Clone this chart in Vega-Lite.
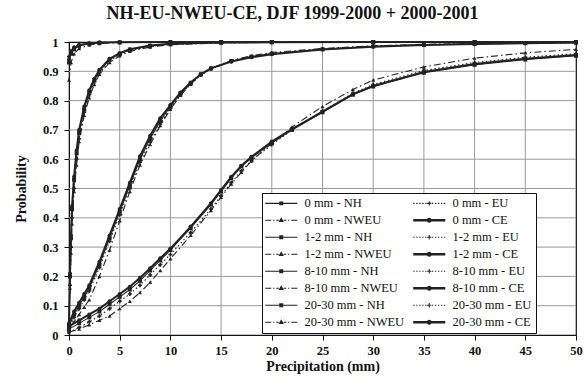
{
"$schema":"https://vega.github.io/schema/vega-lite/v6.json",
"width":507,"height":293,"autosize":"none",
"padding":{"left":69,"top":42,"right":9,"bottom":46},
"background":"white",
"title":{"text":"NH-EU-NWEU-CE,  DJF 1999-2000 + 2000-2001","font":"Liberation Serif","fontSize":18,"fontWeight":"bold","color":"#111","anchor":"middle","offset":13,"dx":-30},
"datasets":{
"gx":[{"gv":5},{"gv":10},{"gv":15},{"gv":20},{"gv":25},{"gv":30},{"gv":35},{"gv":40},{"gv":45}],
"gy":[{"gv":0.1},{"gv":0.2},{"gv":0.3},{"gv":0.4},{"gv":0.5},{"gv":0.6},{"gv":0.7},{"gv":0.8},{"gv":0.9}],
"curves":[
{"t":"0 mm","r":"NH","x":0,"p":0.93},{"t":"0 mm","r":"NH","x":0.2,"p":0.96},{"t":"0 mm","r":"NH","x":0.5,"p":0.975},{"t":"0 mm","r":"NH","x":1,"p":0.987},{"t":"0 mm","r":"NH","x":2,"p":0.994},{"t":"0 mm","r":"NH","x":3,"p":0.997},{"t":"0 mm","r":"NH","x":5,"p":0.999},{"t":"0 mm","r":"NH","x":10,"p":1},{"t":"0 mm","r":"NH","x":15,"p":1},{"t":"0 mm","r":"NH","x":20,"p":1},{"t":"0 mm","r":"NH","x":30,"p":1},{"t":"0 mm","r":"NH","x":40,"p":1},{"t":"0 mm","r":"NH","x":50,"p":1},
{"t":"0 mm","r":"EU","x":0,"p":0.95},{"t":"0 mm","r":"EU","x":0.2,"p":0.97},{"t":"0 mm","r":"EU","x":0.5,"p":0.982},{"t":"0 mm","r":"EU","x":1,"p":0.99},{"t":"0 mm","r":"EU","x":2,"p":0.996},{"t":"0 mm","r":"EU","x":3,"p":0.998},{"t":"0 mm","r":"EU","x":5,"p":0.999},{"t":"0 mm","r":"EU","x":10,"p":1},{"t":"0 mm","r":"EU","x":15,"p":1},{"t":"0 mm","r":"EU","x":20,"p":1},{"t":"0 mm","r":"EU","x":30,"p":1},{"t":"0 mm","r":"EU","x":40,"p":1},{"t":"0 mm","r":"EU","x":50,"p":1},
{"t":"0 mm","r":"NWEU","x":0,"p":0.87},{"t":"0 mm","r":"NWEU","x":0.2,"p":0.93},{"t":"0 mm","r":"NWEU","x":0.5,"p":0.96},{"t":"0 mm","r":"NWEU","x":1,"p":0.978},{"t":"0 mm","r":"NWEU","x":2,"p":0.99},{"t":"0 mm","r":"NWEU","x":3,"p":0.995},{"t":"0 mm","r":"NWEU","x":5,"p":0.998},{"t":"0 mm","r":"NWEU","x":10,"p":0.999},{"t":"0 mm","r":"NWEU","x":15,"p":1},{"t":"0 mm","r":"NWEU","x":20,"p":1},{"t":"0 mm","r":"NWEU","x":30,"p":1},{"t":"0 mm","r":"NWEU","x":40,"p":1},{"t":"0 mm","r":"NWEU","x":50,"p":1},
{"t":"0 mm","r":"CE","x":0,"p":0.94},{"t":"0 mm","r":"CE","x":0.2,"p":0.965},{"t":"0 mm","r":"CE","x":0.5,"p":0.98},{"t":"0 mm","r":"CE","x":1,"p":0.99},{"t":"0 mm","r":"CE","x":2,"p":0.995},{"t":"0 mm","r":"CE","x":3,"p":0.998},{"t":"0 mm","r":"CE","x":5,"p":0.999},{"t":"0 mm","r":"CE","x":10,"p":1},{"t":"0 mm","r":"CE","x":15,"p":1},{"t":"0 mm","r":"CE","x":20,"p":1},{"t":"0 mm","r":"CE","x":30,"p":1},{"t":"0 mm","r":"CE","x":40,"p":1},{"t":"0 mm","r":"CE","x":50,"p":1},
{"t":"1-2 mm","r":"NH","x":0,"p":0.03},{"t":"1-2 mm","r":"NH","x":0.1,"p":0.2},{"t":"1-2 mm","r":"NH","x":0.2,"p":0.33},{"t":"1-2 mm","r":"NH","x":0.3,"p":0.43},{"t":"1-2 mm","r":"NH","x":0.5,"p":0.53},{"t":"1-2 mm","r":"NH","x":0.75,"p":0.62},{"t":"1-2 mm","r":"NH","x":1,"p":0.69},{"t":"1-2 mm","r":"NH","x":1.5,"p":0.77},{"t":"1-2 mm","r":"NH","x":2,"p":0.83},{"t":"1-2 mm","r":"NH","x":2.5,"p":0.87},{"t":"1-2 mm","r":"NH","x":3,"p":0.9},{"t":"1-2 mm","r":"NH","x":4,"p":0.94},{"t":"1-2 mm","r":"NH","x":5,"p":0.96},{"t":"1-2 mm","r":"NH","x":6,"p":0.974},{"t":"1-2 mm","r":"NH","x":8,"p":0.987},{"t":"1-2 mm","r":"NH","x":10,"p":0.993},{"t":"1-2 mm","r":"NH","x":15,"p":0.998},{"t":"1-2 mm","r":"NH","x":20,"p":0.999},{"t":"1-2 mm","r":"NH","x":30,"p":1},{"t":"1-2 mm","r":"NH","x":40,"p":1},{"t":"1-2 mm","r":"NH","x":50,"p":1},
{"t":"1-2 mm","r":"EU","x":0,"p":0.02},{"t":"1-2 mm","r":"EU","x":0.1,"p":0.17},{"t":"1-2 mm","r":"EU","x":0.2,"p":0.3},{"t":"1-2 mm","r":"EU","x":0.3,"p":0.4},{"t":"1-2 mm","r":"EU","x":0.5,"p":0.5},{"t":"1-2 mm","r":"EU","x":0.75,"p":0.6},{"t":"1-2 mm","r":"EU","x":1,"p":0.67},{"t":"1-2 mm","r":"EU","x":1.5,"p":0.76},{"t":"1-2 mm","r":"EU","x":2,"p":0.82},{"t":"1-2 mm","r":"EU","x":2.5,"p":0.865},{"t":"1-2 mm","r":"EU","x":3,"p":0.895},{"t":"1-2 mm","r":"EU","x":4,"p":0.935},{"t":"1-2 mm","r":"EU","x":5,"p":0.957},{"t":"1-2 mm","r":"EU","x":6,"p":0.971},{"t":"1-2 mm","r":"EU","x":8,"p":0.985},{"t":"1-2 mm","r":"EU","x":10,"p":0.992},{"t":"1-2 mm","r":"EU","x":15,"p":0.997},{"t":"1-2 mm","r":"EU","x":20,"p":0.999},{"t":"1-2 mm","r":"EU","x":30,"p":1},{"t":"1-2 mm","r":"EU","x":40,"p":1},{"t":"1-2 mm","r":"EU","x":50,"p":1},
{"t":"1-2 mm","r":"NWEU","x":0,"p":0.04},{"t":"1-2 mm","r":"NWEU","x":0.1,"p":0.16},{"t":"1-2 mm","r":"NWEU","x":0.2,"p":0.28},{"t":"1-2 mm","r":"NWEU","x":0.3,"p":0.38},{"t":"1-2 mm","r":"NWEU","x":0.5,"p":0.49},{"t":"1-2 mm","r":"NWEU","x":0.75,"p":0.58},{"t":"1-2 mm","r":"NWEU","x":1,"p":0.66},{"t":"1-2 mm","r":"NWEU","x":1.5,"p":0.75},{"t":"1-2 mm","r":"NWEU","x":2,"p":0.81},{"t":"1-2 mm","r":"NWEU","x":2.5,"p":0.855},{"t":"1-2 mm","r":"NWEU","x":3,"p":0.89},{"t":"1-2 mm","r":"NWEU","x":4,"p":0.93},{"t":"1-2 mm","r":"NWEU","x":5,"p":0.953},{"t":"1-2 mm","r":"NWEU","x":6,"p":0.968},{"t":"1-2 mm","r":"NWEU","x":8,"p":0.983},{"t":"1-2 mm","r":"NWEU","x":10,"p":0.991},{"t":"1-2 mm","r":"NWEU","x":15,"p":0.997},{"t":"1-2 mm","r":"NWEU","x":20,"p":0.999},{"t":"1-2 mm","r":"NWEU","x":30,"p":1},{"t":"1-2 mm","r":"NWEU","x":40,"p":1},{"t":"1-2 mm","r":"NWEU","x":50,"p":1},
{"t":"1-2 mm","r":"CE","x":0,"p":0.03},{"t":"1-2 mm","r":"CE","x":0.1,"p":0.21},{"t":"1-2 mm","r":"CE","x":0.2,"p":0.34},{"t":"1-2 mm","r":"CE","x":0.3,"p":0.44},{"t":"1-2 mm","r":"CE","x":0.5,"p":0.54},{"t":"1-2 mm","r":"CE","x":0.75,"p":0.63},{"t":"1-2 mm","r":"CE","x":1,"p":0.7},{"t":"1-2 mm","r":"CE","x":1.5,"p":0.78},{"t":"1-2 mm","r":"CE","x":2,"p":0.835},{"t":"1-2 mm","r":"CE","x":2.5,"p":0.875},{"t":"1-2 mm","r":"CE","x":3,"p":0.905},{"t":"1-2 mm","r":"CE","x":4,"p":0.943},{"t":"1-2 mm","r":"CE","x":5,"p":0.962},{"t":"1-2 mm","r":"CE","x":6,"p":0.975},{"t":"1-2 mm","r":"CE","x":8,"p":0.988},{"t":"1-2 mm","r":"CE","x":10,"p":0.994},{"t":"1-2 mm","r":"CE","x":15,"p":0.998},{"t":"1-2 mm","r":"CE","x":20,"p":0.999},{"t":"1-2 mm","r":"CE","x":30,"p":1},{"t":"1-2 mm","r":"CE","x":40,"p":1},{"t":"1-2 mm","r":"CE","x":50,"p":1},
{"t":"8-10 mm","r":"NH","x":0,"p":0.03},{"t":"8-10 mm","r":"NH","x":0.5,"p":0.07},{"t":"8-10 mm","r":"NH","x":1,"p":0.1},{"t":"8-10 mm","r":"NH","x":1.5,"p":0.13},{"t":"8-10 mm","r":"NH","x":2,"p":0.16},{"t":"8-10 mm","r":"NH","x":3,"p":0.24},{"t":"8-10 mm","r":"NH","x":4,"p":0.33},{"t":"8-10 mm","r":"NH","x":5,"p":0.42},{"t":"8-10 mm","r":"NH","x":6,"p":0.51},{"t":"8-10 mm","r":"NH","x":7,"p":0.6},{"t":"8-10 mm","r":"NH","x":8,"p":0.67},{"t":"8-10 mm","r":"NH","x":9,"p":0.73},{"t":"8-10 mm","r":"NH","x":10,"p":0.78},{"t":"8-10 mm","r":"NH","x":11,"p":0.825},{"t":"8-10 mm","r":"NH","x":12,"p":0.86},{"t":"8-10 mm","r":"NH","x":13,"p":0.89},{"t":"8-10 mm","r":"NH","x":14,"p":0.91},{"t":"8-10 mm","r":"NH","x":16,"p":0.935},{"t":"8-10 mm","r":"NH","x":18,"p":0.95},{"t":"8-10 mm","r":"NH","x":20,"p":0.96},{"t":"8-10 mm","r":"NH","x":25,"p":0.975},{"t":"8-10 mm","r":"NH","x":30,"p":0.985},{"t":"8-10 mm","r":"NH","x":35,"p":0.99},{"t":"8-10 mm","r":"NH","x":40,"p":0.993},{"t":"8-10 mm","r":"NH","x":45,"p":0.996},{"t":"8-10 mm","r":"NH","x":50,"p":0.998},
{"t":"8-10 mm","r":"EU","x":0,"p":0.02},{"t":"8-10 mm","r":"EU","x":0.5,"p":0.06},{"t":"8-10 mm","r":"EU","x":1,"p":0.09},{"t":"8-10 mm","r":"EU","x":1.5,"p":0.12},{"t":"8-10 mm","r":"EU","x":2,"p":0.15},{"t":"8-10 mm","r":"EU","x":3,"p":0.23},{"t":"8-10 mm","r":"EU","x":4,"p":0.32},{"t":"8-10 mm","r":"EU","x":5,"p":0.41},{"t":"8-10 mm","r":"EU","x":6,"p":0.5},{"t":"8-10 mm","r":"EU","x":7,"p":0.59},{"t":"8-10 mm","r":"EU","x":8,"p":0.66},{"t":"8-10 mm","r":"EU","x":9,"p":0.72},{"t":"8-10 mm","r":"EU","x":10,"p":0.775},{"t":"8-10 mm","r":"EU","x":11,"p":0.82},{"t":"8-10 mm","r":"EU","x":12,"p":0.857},{"t":"8-10 mm","r":"EU","x":13,"p":0.887},{"t":"8-10 mm","r":"EU","x":14,"p":0.908},{"t":"8-10 mm","r":"EU","x":16,"p":0.934},{"t":"8-10 mm","r":"EU","x":18,"p":0.95},{"t":"8-10 mm","r":"EU","x":20,"p":0.961},{"t":"8-10 mm","r":"EU","x":25,"p":0.976},{"t":"8-10 mm","r":"EU","x":30,"p":0.986},{"t":"8-10 mm","r":"EU","x":35,"p":0.991},{"t":"8-10 mm","r":"EU","x":40,"p":0.994},{"t":"8-10 mm","r":"EU","x":45,"p":0.996},{"t":"8-10 mm","r":"EU","x":50,"p":0.998},
{"t":"8-10 mm","r":"NWEU","x":0,"p":0.02},{"t":"8-10 mm","r":"NWEU","x":0.5,"p":0.045},{"t":"8-10 mm","r":"NWEU","x":1,"p":0.07},{"t":"8-10 mm","r":"NWEU","x":1.5,"p":0.095},{"t":"8-10 mm","r":"NWEU","x":2,"p":0.12},{"t":"8-10 mm","r":"NWEU","x":3,"p":0.2},{"t":"8-10 mm","r":"NWEU","x":4,"p":0.29},{"t":"8-10 mm","r":"NWEU","x":5,"p":0.39},{"t":"8-10 mm","r":"NWEU","x":6,"p":0.49},{"t":"8-10 mm","r":"NWEU","x":7,"p":0.58},{"t":"8-10 mm","r":"NWEU","x":8,"p":0.65},{"t":"8-10 mm","r":"NWEU","x":9,"p":0.715},{"t":"8-10 mm","r":"NWEU","x":10,"p":0.77},{"t":"8-10 mm","r":"NWEU","x":11,"p":0.818},{"t":"8-10 mm","r":"NWEU","x":12,"p":0.856},{"t":"8-10 mm","r":"NWEU","x":13,"p":0.888},{"t":"8-10 mm","r":"NWEU","x":14,"p":0.91},{"t":"8-10 mm","r":"NWEU","x":16,"p":0.937},{"t":"8-10 mm","r":"NWEU","x":18,"p":0.953},{"t":"8-10 mm","r":"NWEU","x":20,"p":0.964},{"t":"8-10 mm","r":"NWEU","x":25,"p":0.978},{"t":"8-10 mm","r":"NWEU","x":30,"p":0.987},{"t":"8-10 mm","r":"NWEU","x":35,"p":0.992},{"t":"8-10 mm","r":"NWEU","x":40,"p":0.995},{"t":"8-10 mm","r":"NWEU","x":45,"p":0.997},{"t":"8-10 mm","r":"NWEU","x":50,"p":0.998},
{"t":"8-10 mm","r":"CE","x":0,"p":0.04},{"t":"8-10 mm","r":"CE","x":0.5,"p":0.08},{"t":"8-10 mm","r":"CE","x":1,"p":0.11},{"t":"8-10 mm","r":"CE","x":1.5,"p":0.14},{"t":"8-10 mm","r":"CE","x":2,"p":0.17},{"t":"8-10 mm","r":"CE","x":3,"p":0.25},{"t":"8-10 mm","r":"CE","x":4,"p":0.34},{"t":"8-10 mm","r":"CE","x":5,"p":0.43},{"t":"8-10 mm","r":"CE","x":6,"p":0.52},{"t":"8-10 mm","r":"CE","x":7,"p":0.61},{"t":"8-10 mm","r":"CE","x":8,"p":0.68},{"t":"8-10 mm","r":"CE","x":9,"p":0.74},{"t":"8-10 mm","r":"CE","x":10,"p":0.785},{"t":"8-10 mm","r":"CE","x":11,"p":0.828},{"t":"8-10 mm","r":"CE","x":12,"p":0.862},{"t":"8-10 mm","r":"CE","x":13,"p":0.89},{"t":"8-10 mm","r":"CE","x":14,"p":0.91},{"t":"8-10 mm","r":"CE","x":16,"p":0.933},{"t":"8-10 mm","r":"CE","x":18,"p":0.948},{"t":"8-10 mm","r":"CE","x":20,"p":0.958},{"t":"8-10 mm","r":"CE","x":25,"p":0.974},{"t":"8-10 mm","r":"CE","x":30,"p":0.984},{"t":"8-10 mm","r":"CE","x":35,"p":0.99},{"t":"8-10 mm","r":"CE","x":40,"p":0.993},{"t":"8-10 mm","r":"CE","x":45,"p":0.996},{"t":"8-10 mm","r":"CE","x":50,"p":0.998},
{"t":"20-30 mm","r":"NH","x":0,"p":0.02},{"t":"20-30 mm","r":"NH","x":1,"p":0.04},{"t":"20-30 mm","r":"NH","x":2,"p":0.06},{"t":"20-30 mm","r":"NH","x":3,"p":0.08},{"t":"20-30 mm","r":"NH","x":4,"p":0.105},{"t":"20-30 mm","r":"NH","x":5,"p":0.13},{"t":"20-30 mm","r":"NH","x":6,"p":0.155},{"t":"20-30 mm","r":"NH","x":7,"p":0.185},{"t":"20-30 mm","r":"NH","x":8,"p":0.22},{"t":"20-30 mm","r":"NH","x":9,"p":0.255},{"t":"20-30 mm","r":"NH","x":10,"p":0.29},{"t":"20-30 mm","r":"NH","x":12,"p":0.365},{"t":"20-30 mm","r":"NH","x":14,"p":0.445},{"t":"20-30 mm","r":"NH","x":15,"p":0.49},{"t":"20-30 mm","r":"NH","x":16,"p":0.535},{"t":"20-30 mm","r":"NH","x":17,"p":0.575},{"t":"20-30 mm","r":"NH","x":18,"p":0.605},{"t":"20-30 mm","r":"NH","x":20,"p":0.655},{"t":"20-30 mm","r":"NH","x":22,"p":0.7},{"t":"20-30 mm","r":"NH","x":25,"p":0.76},{"t":"20-30 mm","r":"NH","x":28,"p":0.82},{"t":"20-30 mm","r":"NH","x":30,"p":0.848},{"t":"20-30 mm","r":"NH","x":35,"p":0.895},{"t":"20-30 mm","r":"NH","x":40,"p":0.922},{"t":"20-30 mm","r":"NH","x":45,"p":0.94},{"t":"20-30 mm","r":"NH","x":50,"p":0.953},
{"t":"20-30 mm","r":"EU","x":0,"p":0.01},{"t":"20-30 mm","r":"EU","x":1,"p":0.025},{"t":"20-30 mm","r":"EU","x":2,"p":0.045},{"t":"20-30 mm","r":"EU","x":3,"p":0.065},{"t":"20-30 mm","r":"EU","x":4,"p":0.09},{"t":"20-30 mm","r":"EU","x":5,"p":0.115},{"t":"20-30 mm","r":"EU","x":6,"p":0.14},{"t":"20-30 mm","r":"EU","x":7,"p":0.17},{"t":"20-30 mm","r":"EU","x":8,"p":0.205},{"t":"20-30 mm","r":"EU","x":9,"p":0.24},{"t":"20-30 mm","r":"EU","x":10,"p":0.275},{"t":"20-30 mm","r":"EU","x":12,"p":0.35},{"t":"20-30 mm","r":"EU","x":14,"p":0.43},{"t":"20-30 mm","r":"EU","x":15,"p":0.475},{"t":"20-30 mm","r":"EU","x":16,"p":0.52},{"t":"20-30 mm","r":"EU","x":17,"p":0.56},{"t":"20-30 mm","r":"EU","x":18,"p":0.595},{"t":"20-30 mm","r":"EU","x":20,"p":0.65},{"t":"20-30 mm","r":"EU","x":22,"p":0.7},{"t":"20-30 mm","r":"EU","x":25,"p":0.765},{"t":"20-30 mm","r":"EU","x":28,"p":0.825},{"t":"20-30 mm","r":"EU","x":30,"p":0.855},{"t":"20-30 mm","r":"EU","x":35,"p":0.903},{"t":"20-30 mm","r":"EU","x":40,"p":0.93},{"t":"20-30 mm","r":"EU","x":45,"p":0.948},{"t":"20-30 mm","r":"EU","x":50,"p":0.96},
{"t":"20-30 mm","r":"NWEU","x":0,"p":0.01},{"t":"20-30 mm","r":"NWEU","x":1,"p":0.02},{"t":"20-30 mm","r":"NWEU","x":2,"p":0.035},{"t":"20-30 mm","r":"NWEU","x":3,"p":0.05},{"t":"20-30 mm","r":"NWEU","x":4,"p":0.065},{"t":"20-30 mm","r":"NWEU","x":5,"p":0.09},{"t":"20-30 mm","r":"NWEU","x":6,"p":0.115},{"t":"20-30 mm","r":"NWEU","x":7,"p":0.145},{"t":"20-30 mm","r":"NWEU","x":8,"p":0.18},{"t":"20-30 mm","r":"NWEU","x":9,"p":0.22},{"t":"20-30 mm","r":"NWEU","x":10,"p":0.26},{"t":"20-30 mm","r":"NWEU","x":12,"p":0.34},{"t":"20-30 mm","r":"NWEU","x":14,"p":0.425},{"t":"20-30 mm","r":"NWEU","x":15,"p":0.47},{"t":"20-30 mm","r":"NWEU","x":16,"p":0.515},{"t":"20-30 mm","r":"NWEU","x":17,"p":0.555},{"t":"20-30 mm","r":"NWEU","x":18,"p":0.595},{"t":"20-30 mm","r":"NWEU","x":20,"p":0.655},{"t":"20-30 mm","r":"NWEU","x":22,"p":0.71},{"t":"20-30 mm","r":"NWEU","x":25,"p":0.78},{"t":"20-30 mm","r":"NWEU","x":28,"p":0.838},{"t":"20-30 mm","r":"NWEU","x":30,"p":0.87},{"t":"20-30 mm","r":"NWEU","x":35,"p":0.915},{"t":"20-30 mm","r":"NWEU","x":40,"p":0.945},{"t":"20-30 mm","r":"NWEU","x":45,"p":0.963},{"t":"20-30 mm","r":"NWEU","x":50,"p":0.975},
{"t":"20-30 mm","r":"CE","x":0,"p":0.03},{"t":"20-30 mm","r":"CE","x":1,"p":0.05},{"t":"20-30 mm","r":"CE","x":2,"p":0.07},{"t":"20-30 mm","r":"CE","x":3,"p":0.09},{"t":"20-30 mm","r":"CE","x":4,"p":0.115},{"t":"20-30 mm","r":"CE","x":5,"p":0.14},{"t":"20-30 mm","r":"CE","x":6,"p":0.165},{"t":"20-30 mm","r":"CE","x":7,"p":0.195},{"t":"20-30 mm","r":"CE","x":8,"p":0.228},{"t":"20-30 mm","r":"CE","x":9,"p":0.262},{"t":"20-30 mm","r":"CE","x":10,"p":0.295},{"t":"20-30 mm","r":"CE","x":12,"p":0.37},{"t":"20-30 mm","r":"CE","x":14,"p":0.45},{"t":"20-30 mm","r":"CE","x":15,"p":0.495},{"t":"20-30 mm","r":"CE","x":16,"p":0.54},{"t":"20-30 mm","r":"CE","x":17,"p":0.578},{"t":"20-30 mm","r":"CE","x":18,"p":0.608},{"t":"20-30 mm","r":"CE","x":20,"p":0.66},{"t":"20-30 mm","r":"CE","x":22,"p":0.703},{"t":"20-30 mm","r":"CE","x":25,"p":0.762},{"t":"20-30 mm","r":"CE","x":28,"p":0.822},{"t":"20-30 mm","r":"CE","x":30,"p":0.85},{"t":"20-30 mm","r":"CE","x":35,"p":0.898},{"t":"20-30 mm","r":"CE","x":40,"p":0.925},{"t":"20-30 mm","r":"CE","x":45,"p":0.943},{"t":"20-30 mm","r":"CE","x":50,"p":0.956}
],
"leg":[
{"label":"0 mm - NH"},{"label":"0 mm - EU"},{"label":"0 mm - NWEU"},{"label":"0 mm - CE"},
{"label":"1-2 mm - NH"},{"label":"1-2 mm - EU"},{"label":"1-2 mm - NWEU"},{"label":"1-2 mm - CE"},
{"label":"8-10 mm - NH"},{"label":"8-10 mm - EU"},{"label":"8-10 mm - NWEU"},{"label":"8-10 mm - CE"},
{"label":"20-30 mm - NH"},{"label":"20-30 mm - EU"},{"label":"20-30 mm - NWEU"},{"label":"20-30 mm - CE"}
]
},
"layer":[
{"data":{"name":"gx"},
 "mark":{"type":"rule","color":"#999999","strokeWidth":1},
 "encoding":{"x":{"field":"gv","type":"quantitative","title":"Precipitation (mm)","scale":{"domain":[0,50],"nice":false,"zero":false},"axis":{"values":[0,5,10,15,20,25,30,35,40,45,50],"labelFlush":false,"grid":false}}}},
{"data":{"name":"gy"},
 "mark":{"type":"rule","color":"#999999","strokeWidth":1},
 "encoding":{"y":{"field":"gv","type":"quantitative","title":"Probability","scale":{"domain":[0,1],"nice":false},"axis":{"values":[0,0.1,0.2,0.3,0.4,0.5,0.6,0.7,0.8,0.9,1],"format":"~g","labelFlush":false,"labelOverlap":false,"grid":false}}}},
{"data":{"name":"curves"},"transform":[{"filter":"datum.r != 'CE'"}],
 "mark":{"type":"line","color":"#222","strokeWidth":1.1},
 "encoding":{
  "x":{"field":"x","type":"quantitative","title":"Precipitation (mm)","scale":{"domain":[0,50],"nice":false,"zero":false},"axis":{"values":[0,5,10,15,20,25,30,35,40,45,50],"labelFlush":false,"grid":false}},
  "y":{"field":"p","type":"quantitative","title":"Probability","scale":{"domain":[0,1],"nice":false},"axis":{"values":[0,0.1,0.2,0.3,0.4,0.5,0.6,0.7,0.8,0.9,1],"format":"~g","labelFlush":false,"labelOverlap":false,"grid":false}},
  "detail":{"field":"t"},
  "strokeDash":{"field":"r","type":"nominal","scale":{"domain":["NH","EU","NWEU"],"range":[[1,0],[1.5,2.5],[7,3,1.5,3]]},"legend":null}
 }},
{"data":{"name":"curves"},"transform":[{"filter":"datum.r == 'CE'"}],
 "mark":{"type":"line","color":"#222","strokeWidth":2},
 "encoding":{
  "x":{"field":"x","type":"quantitative","title":"Precipitation (mm)","scale":{"domain":[0,50],"nice":false,"zero":false},"axis":{"values":[0,5,10,15,20,25,30,35,40,45,50],"labelFlush":false,"grid":false}},
  "y":{"field":"p","type":"quantitative","title":"Probability","scale":{"domain":[0,1],"nice":false},"axis":{"values":[0,0.1,0.2,0.3,0.4,0.5,0.6,0.7,0.8,0.9,1],"format":"~g","labelFlush":false,"labelOverlap":false,"grid":false}},
  "detail":{"field":"t"}}},
{"data":{"name":"curves"},
 "mark":{"type":"point","filled":true,"color":"#222","size":16,"opacity":1},
 "encoding":{
  "x":{"field":"x","type":"quantitative","title":"Precipitation (mm)","scale":{"domain":[0,50],"nice":false,"zero":false},"axis":{"values":[0,5,10,15,20,25,30,35,40,45,50],"labelFlush":false,"grid":false}},
  "y":{"field":"p","type":"quantitative","title":"Probability","scale":{"domain":[0,1],"nice":false},"axis":{"values":[0,0.1,0.2,0.3,0.4,0.5,0.6,0.7,0.8,0.9,1],"format":"~g","labelFlush":false,"labelOverlap":false,"grid":false}},
  "shape":{"field":"r","type":"nominal","scale":{"domain":["NH","EU","NWEU","CE"],"range":["square","cross","triangle-up","circle"]},"legend":null}
 }},
{"data":{"name":"leg"},
 "mark":{"type":"point","filled":true,"opacity":0,"fill":"#222","stroke":"#222"},
 "encoding":{
  "shape":{"field":"label","type":"nominal",
   "scale":{"domain":["0 mm - NH","0 mm - EU","0 mm - NWEU","0 mm - CE","1-2 mm - NH","1-2 mm - EU","1-2 mm - NWEU","1-2 mm - CE","8-10 mm - NH","8-10 mm - EU","8-10 mm - NWEU","8-10 mm - CE","20-30 mm - NH","20-30 mm - EU","20-30 mm - NWEU","20-30 mm - CE"],
    "range":[
     "M-1.17,-0.09H4.17V0.09H-1.17ZM1.17,-0.33H1.83V0.33H1.17Z",
     "M-1.17,-0.09h0.22v0.18h-0.22ZM-0.67,-0.09h0.22v0.18h-0.22ZM-0.17,-0.09h0.22v0.18h-0.22ZM0.33,-0.09h0.22v0.18h-0.22ZM0.83,-0.09h0.22v0.18h-0.22ZM1.95,-0.09h0.22v0.18h-0.22ZM2.45,-0.09h0.22v0.18h-0.22ZM2.95,-0.09h0.22v0.18h-0.22ZM3.45,-0.09h0.22v0.18h-0.22ZM3.95,-0.09h0.22v0.18h-0.22ZM1.15,-0.09H1.85V0.09H1.15ZM1.41,-0.36H1.59V0.36H1.41Z",
     "M-1.17,-0.09H-0.17V0.09H-1.17ZM0.16,-0.09H0.36V0.09H0.16ZM0.66,-0.09H1.1V0.09H0.66ZM1.9,-0.09H2.34V0.09H1.9ZM2.64,-0.09H2.84V0.09H2.64ZM3.17,-0.09H4.17V0.09H3.17ZM1.5,-0.5L1.95,0.3H1.05Z",
     "M-1.17,-0.2H4.17V0.2H-1.17ZM1.92,0A0.42,0.42 0 1 1 1.08,0A0.42,0.42 0 1 1 1.92,0Z",
     "M-1.17,-0.09H4.17V0.09H-1.17ZM1.17,-0.33H1.83V0.33H1.17Z",
     "M-1.17,-0.09h0.22v0.18h-0.22ZM-0.67,-0.09h0.22v0.18h-0.22ZM-0.17,-0.09h0.22v0.18h-0.22ZM0.33,-0.09h0.22v0.18h-0.22ZM0.83,-0.09h0.22v0.18h-0.22ZM1.95,-0.09h0.22v0.18h-0.22ZM2.45,-0.09h0.22v0.18h-0.22ZM2.95,-0.09h0.22v0.18h-0.22ZM3.45,-0.09h0.22v0.18h-0.22ZM3.95,-0.09h0.22v0.18h-0.22ZM1.15,-0.09H1.85V0.09H1.15ZM1.41,-0.36H1.59V0.36H1.41Z",
     "M-1.17,-0.09H-0.17V0.09H-1.17ZM0.16,-0.09H0.36V0.09H0.16ZM0.66,-0.09H1.1V0.09H0.66ZM1.9,-0.09H2.34V0.09H1.9ZM2.64,-0.09H2.84V0.09H2.64ZM3.17,-0.09H4.17V0.09H3.17ZM1.5,-0.5L1.95,0.3H1.05Z",
     "M-1.17,-0.2H4.17V0.2H-1.17ZM1.92,0A0.42,0.42 0 1 1 1.08,0A0.42,0.42 0 1 1 1.92,0Z",
     "M-1.17,-0.09H4.17V0.09H-1.17ZM1.17,-0.33H1.83V0.33H1.17Z",
     "M-1.17,-0.09h0.22v0.18h-0.22ZM-0.67,-0.09h0.22v0.18h-0.22ZM-0.17,-0.09h0.22v0.18h-0.22ZM0.33,-0.09h0.22v0.18h-0.22ZM0.83,-0.09h0.22v0.18h-0.22ZM1.95,-0.09h0.22v0.18h-0.22ZM2.45,-0.09h0.22v0.18h-0.22ZM2.95,-0.09h0.22v0.18h-0.22ZM3.45,-0.09h0.22v0.18h-0.22ZM3.95,-0.09h0.22v0.18h-0.22ZM1.15,-0.09H1.85V0.09H1.15ZM1.41,-0.36H1.59V0.36H1.41Z",
     "M-1.17,-0.09H-0.17V0.09H-1.17ZM0.16,-0.09H0.36V0.09H0.16ZM0.66,-0.09H1.1V0.09H0.66ZM1.9,-0.09H2.34V0.09H1.9ZM2.64,-0.09H2.84V0.09H2.64ZM3.17,-0.09H4.17V0.09H3.17ZM1.5,-0.5L1.95,0.3H1.05Z",
     "M-1.17,-0.2H4.17V0.2H-1.17ZM1.92,0A0.42,0.42 0 1 1 1.08,0A0.42,0.42 0 1 1 1.92,0Z",
     "M-1.17,-0.09H4.17V0.09H-1.17ZM1.17,-0.33H1.83V0.33H1.17Z",
     "M-1.17,-0.09h0.22v0.18h-0.22ZM-0.67,-0.09h0.22v0.18h-0.22ZM-0.17,-0.09h0.22v0.18h-0.22ZM0.33,-0.09h0.22v0.18h-0.22ZM0.83,-0.09h0.22v0.18h-0.22ZM1.95,-0.09h0.22v0.18h-0.22ZM2.45,-0.09h0.22v0.18h-0.22ZM2.95,-0.09h0.22v0.18h-0.22ZM3.45,-0.09h0.22v0.18h-0.22ZM3.95,-0.09h0.22v0.18h-0.22ZM1.15,-0.09H1.85V0.09H1.15ZM1.41,-0.36H1.59V0.36H1.41Z",
     "M-1.17,-0.09H-0.17V0.09H-1.17ZM0.16,-0.09H0.36V0.09H0.16ZM0.66,-0.09H1.1V0.09H0.66ZM1.9,-0.09H2.34V0.09H1.9ZM2.64,-0.09H2.84V0.09H2.64ZM3.17,-0.09H4.17V0.09H3.17ZM1.5,-0.5L1.95,0.3H1.05Z",
     "M-1.17,-0.2H4.17V0.2H-1.17ZM1.92,0A0.42,0.42 0 1 1 1.08,0A0.42,0.42 0 1 1 1.92,0Z"
    ]},
   "legend":{"title":null,"orient":"none","legendX":193,"legendY":151,"columns":2,"direction":"horizontal","zindex":2,
    "padding":4,"rowPadding":4,"columnPadding":8,"labelOffset":26,
    "labelExpr":"(indexof(datum.label,'CE')>=0 || (indexof(datum.label,'EU')>=0 && indexof(datum.label,'NWEU')<0)) ? datum.label + '\u00a0\u00a0\u00a0\u00a0\u00a0\u00a0\u00a0\u00a0\u00a0\u00a0\u00a0' : datum.label",
    "strokeColor":"#111","fillColor":"white",
    "labelFont":"Liberation Serif","labelFontSize":12.5,"labelColor":"#111","labelLimit":300,
    "symbolSize":144,"symbolStrokeWidth":0,"symbolOpacity":1,"symbolFillColor":"#222","symbolStrokeColor":"#222",
    "encode":{"symbols":{"update":{"fill":{"value":"#222"},"opacity":{"value":1},"strokeWidth":{"value":0},"size":{"value":144}}}}}
  }
 }}
],
"resolve":{"scale":{"shape":"independent"}},
"config":{
 "view":{"stroke":"#111","strokeWidth":1.2},
 "axis":{"labelFont":"Liberation Serif","labelFontWeight":"bold","labelFontSize":12.5,"labelColor":"#111",
  "titleFont":"Liberation Serif","titleFontWeight":"bold","titleFontSize":14,"titleColor":"#111",
  "domainColor":"#111","tickColor":"#111","tickSize":5,"grid":false},
 "axisX":{"labelPadding":4,"titlePadding":3},
 "axisY":{"labelPadding":6,"titlePadding":14}
}
}
